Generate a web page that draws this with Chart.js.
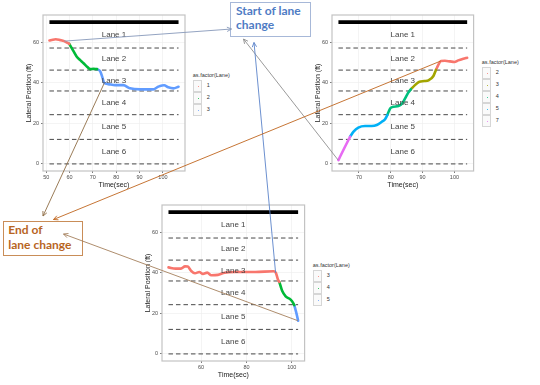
<!DOCTYPE html>
<html><head><meta charset="utf-8">
<script src="https://cdn.jsdelivr.net/npm/chart.js@4.4.1/dist/chart.umd.min.js"></script>
<style>
html,body{margin:0;padding:0;background:#fff;}
#stage{position:relative;width:540px;height:385px;overflow:hidden;font-family:"Liberation Sans",Arial,sans-serif;background:#fff;}
canvas.panel{position:absolute;}
.legend{position:absolute;font-size:5.5px;color:#333;line-height:7px;}
.legend .ttl{position:absolute;left:0;top:0;white-space:nowrap;}
.legend .key{position:absolute;left:0;width:9px;height:11px;border:0.6px solid #d6d6d6;background:#fafafa;box-sizing:border-box;}
.legend .dot{position:absolute;left:3.6px;top:4.6px;width:1.6px;height:1.6px;border-radius:50%;}
.legend .lab{position:absolute;white-space:nowrap;}
.note{position:absolute;background:#fff;box-sizing:border-box;font-family:Lato,"Open Sans",sans-serif;font-weight:bold;font-size:12px;}
#startNote{left:230px;top:1.7px;width:81px;height:35.6px;border:1px solid #a7b8d8;color:#4f7cc4;line-height:14px;padding:1.7px 0 0 5px;}
#endNote{left:2.7px;top:220.7px;width:80.6px;height:35.3px;border:1px solid #c98d58;color:#b8651f;line-height:15px;padding:0.5px 0 0 4.6px;}
#arrows{position:absolute;left:0;top:0;pointer-events:none;z-index:5;}
</style></head><body>
<div id="stage">
  <canvas id="c1" class="panel" width="190" height="189" style="left:0px;top:0px"></canvas>
  <canvas id="c2" class="panel" width="190" height="189" style="left:288.7px;top:0px"></canvas>
  <canvas id="c3" class="panel" width="191" height="189" style="left:118.7px;top:190px"></canvas>
  <div id="startNote" class="note">Start of lane<br>change</div>
  <div id="endNote" class="note">End of<br>lane change</div>
  <canvas id="arrows" width="540" height="385"></canvas>
</div>
<script>
// ---------- data ----------
const laneNames = ['Lane 1','Lane 2','Lane 3','Lane 4','Lane 5','Lane 6'];
const laneEdges = [0, 12.1, 24.3, 36, 46.3, 57.2];
const roadEdge = 70;
const yTicks = [0, 20, 40, 60];
const xTicks1 = [50, 60, 70, 80, 90, 100];
const xTicks2 = [70, 80, 90, 100];
const xTicks3 = [60, 80, 100];
const legendTitle = 'as.factor(Lane)';
const pal3 = ['#F8766D', '#00BA38', '#619CFF'];
const pal5 = ['#F8766D', '#A3A500', '#00BF7D', '#00B0F6', '#E76BF3'];

// Panel 1 (top left): lanes 1 -> 2 -> 3
const p1Lanes = ['1', '2', '3'];
const p1TimeL1 = [51.4, 52.8, 54.1, 56.0, 57.7, 59.9];
const p1PosL1  = [60.9, 61.3, 61.5, 61.1, 60.6, 59.2];
const p1TimeL2 = [59.9, 61.5, 63.1, 64.6, 66.0, 67.5, 68.9, 70.2, 71.8];
const p1PosL2  = [59.2, 56.0, 52.9, 51.2, 49.7, 48.0, 46.8, 46.9, 46.8];
const p1TimeL3 = [71.8, 73.2, 74.1, 74.9, 76.5, 79.5, 83.0, 85.9, 90.2, 95.9, 97.5, 98.8, 100.5, 102.3, 104.5, 106.7];
const p1PosL3  = [46.8, 45.6, 42.6, 39.9, 39.4, 38.9, 38.9, 37.3, 36.8, 36.8, 37.8, 38.5, 38.8, 37.8, 37.3, 38.1];

// Panel 2 (top right): lanes 7 -> 5 -> 4 -> 3 -> 2
const p2Lanes = ['2', '3', '4', '5', '7'];
const p2TimeL7 = [63.55, 65.3, 67.2];
const p2PosL7  = [1.9, 7.5, 13.4];
const p2TimeL5 = [67.2, 68.3, 69.8, 71.9, 74.0, 75.6, 77.2, 78.2, 78.9];
const p2PosL5  = [13.4, 15.9, 17.9, 18.7, 18.7, 19.2, 20.8, 22.0, 24.1];
const p2TimeL4 = [78.9, 79.8, 80.8, 82.4, 83.6, 84.5, 85.5, 86.3];
const p2PosL4  = [24.1, 27.4, 28.2, 28.6, 29.9, 32.4, 35.2, 36.8];
const p2TimeL3 = [86.3, 87.6, 89.0, 90.5, 92.0, 93.4, 94.2];
const p2PosL3  = [36.8, 38.9, 40.6, 40.9, 41.4, 43.4, 46.4];
const p2TimeL2 = [94.2, 94.9, 95.8, 97.0, 98.6, 100.0, 101.2, 102.8, 104.0];
const p2PosL2  = [46.4, 48.8, 50.8, 50.9, 50.6, 50.3, 51.1, 51.9, 52.4];

// Panel 3 (bottom): lanes 3 -> 4 -> 5
const p3Lanes = ['3', '4', '5'];
const p3TimeL3 = [45.6, 48.8, 51.1, 52.9, 54.1, 55.5, 57.3, 59.2, 60.8, 62.7, 64.5, 67.4, 70.4, 74.9, 83.9, 92.0, 93.0, 93.9, 94.5];
const p3PosL3  = [42.7, 42.1, 42.1, 43.2, 43.1, 41.1, 39.8, 40.4, 39.5, 40.1, 38.8, 39.0, 40.1, 40.4, 40.4, 40.8, 40.0, 36.7, 35.5];
const p3TimeL4 = [94.5, 95.1, 95.8, 97.3, 99.5, 100.6, 101.1];
const p3PosL4  = [35.5, 33.4, 31.0, 28.4, 26.8, 25.2, 24.1];
const p3TimeL5 = [101.1, 102.2, 102.8];
const p3PosL5  = [24.1, 19.4, 16.4];

// arrow anchors (times on the trajectories)
const startTimes = [57.7, 63.55, 93.0];
const endTimes = [74.9, 95.8, 102.8];

// ---------- drawing ----------
const FONT = '"Liberation Sans", Arial, sans-serif';

const lanePlugin = {
  id: 'laneText',
  afterDatasetsDraw(chart, args, opts) {
    const {ctx, scales: {x, y}} = chart;
    const xm = x.getPixelForValue((opts.t0 + opts.t1) / 2);
    const bounds = laneEdges.concat([roadEdge]);
    ctx.save();
    ctx.font = '8px ' + FONT;
    ctx.fillStyle = '#444';
    ctx.textAlign = 'center';
    ctx.textBaseline = 'middle';
    laneNames.forEach((name, i) => {
      const hi = bounds[bounds.length - 1 - i], lo = bounds[bounds.length - 2 - i];
      ctx.fillText(name, xm, y.getPixelForValue((lo + hi) / 2));
    });
    ctx.restore();
  }
};
const borderPlugin = {
  id: 'panelBorder',
  afterDraw(chart) {
    const {ctx, chartArea: a} = chart;
    ctx.save();
    ctx.strokeStyle = '#c3c3c3';
    ctx.lineWidth = 1.2;
    ctx.strokeRect(a.left, a.top, a.right - a.left, a.bottom - a.top);
    ctx.restore();
  }
};

function makePanel(id, segs, xTicks, plotW) {
  const allT = segs.flatMap(s => s.t);
  const t0 = Math.min(...allT), t1 = Math.max(...allT);
  const xp = (t1 - t0) * 0.05, yp = roadEdge * 0.05;
  const canvas = document.getElementById(id);
  const datasets = segs.map(s => ({
    data: s.t.map((t, i) => ({x: t, y: s.y[i]})),
    borderColor: s.color, borderWidth: 2.6, pointRadius: 0,
    cubicInterpolationMode: 'monotone', fill: false, borderCapStyle: 'round', borderJoinStyle: 'round'
  })).concat(laneEdges.map(v => ({
    data: [{x: t0, y: v}, {x: t1, y: v}],
    borderColor: '#333', borderWidth: 0.9, borderDash: [4.5, 3], pointRadius: 0, fill: false
  }))).concat([{
    data: [{x: t0, y: roadEdge}, {x: t1, y: roadEdge}],
    borderColor: '#000', borderWidth: 3.6, pointRadius: 0, fill: false
  }]);
  const tickFont = {family: FONT, size: 5.5};
  return new Chart(canvas, {
    type: 'line',
    data: {datasets},
    plugins: [lanePlugin, borderPlugin],
    options: {
      responsive: false, animation: false, devicePixelRatio: 1, events: [],
      layout: {padding: {left: 24.8, top: 15, right: canvas.width - 43 - plotW, bottom: 0}},
      plugins: {legend: {display: false}, tooltip: {enabled: false}, laneText: {t0, t1}},
      scales: {
        x: {
          type: 'linear', min: t0 - xp, max: t1 + xp,
          afterBuildTicks: s => { s.ticks = xTicks.map(v => ({value: v})); },
          afterFit: s => { s.height = 18; },
          grid: {color: '#efefef', lineWidth: 0.7, tickLength: 2, tickColor: '#444', tickWidth: 0.7},
          border: {display: false},
          ticks: {font: tickFont, color: '#4d4d4d', padding: 1, maxRotation: 0, autoSkip: false},
          title: {display: true, text: 'Time(sec)', font: {family: FONT, size: 7}, color: '#1a1a1a', padding: 0}
        },
        y: {
          type: 'linear', min: -yp, max: roadEdge + yp,
          afterBuildTicks: s => { s.ticks = yTicks.map(v => ({value: v})); },
          afterFit: s => { s.width = 18.2; },
          grid: {color: '#efefef', lineWidth: 0.7, tickLength: 2, tickColor: '#444', tickWidth: 0.7},
          border: {display: false},
          ticks: {font: tickFont, color: '#4d4d4d', padding: 2, autoSkip: false},
          title: {display: true, text: 'Lateral Position (ft)', font: {family: FONT, size: 7}, color: '#1a1a1a', padding: 0}
        }
      }
    }
  });
}

const chart1 = makePanel('c1', [
  {t: p1TimeL1, y: p1PosL1, color: pal3[0]},
  {t: p1TimeL2, y: p1PosL2, color: pal3[1]},
  {t: p1TimeL3, y: p1PosL3, color: pal3[2]}
], xTicks1, 142);
const chart2 = makePanel('c2', [
  {t: p2TimeL7, y: p2PosL7, color: pal5[4]},
  {t: p2TimeL5, y: p2PosL5, color: pal5[3]},
  {t: p2TimeL4, y: p2PosL4, color: pal5[2]},
  {t: p2TimeL3, y: p2PosL3, color: pal5[1]},
  {t: p2TimeL2, y: p2PosL2, color: pal5[0]}
], xTicks2, 141.6);
const chart3 = makePanel('c3', [
  {t: p3TimeL3, y: p3PosL3, color: pal3[0]},
  {t: p3TimeL4, y: p3PosL4, color: pal3[1]},
  {t: p3TimeL5, y: p3PosL5, color: pal3[2]}
], xTicks3, 142.6);

// ---------- legends ----------
function buildLegend(left, titleCenter, lanes, colors, step) {
  const stage = document.getElementById('stage');
  const d = document.createElement('div');
  d.className = 'legend';
  d.style.left = left + 'px';
  d.style.top = (titleCenter - 3.5) + 'px';
  const t = document.createElement('div');
  t.className = 'ttl'; t.style.left = '-0.5px'; t.textContent = legendTitle;
  d.appendChild(t);
  lanes.forEach((ln, i) => {
    const top = 8 + i * step;
    const k = document.createElement('div');
    k.className = 'key'; k.style.top = top + 'px'; k.style.height = step + 'px';
    const dot = document.createElement('div');
    dot.className = 'dot'; dot.style.background = colors[i]; dot.style.top = (step / 2 - 0.9) + 'px';
    k.appendChild(dot);
    d.appendChild(k);
    const l = document.createElement('div');
    l.className = 'lab'; l.textContent = ln;
    l.style.left = '13.5px'; l.style.top = (top + step / 2 - 3.5) + 'px';
    d.appendChild(l);
  });
  stage.appendChild(d);
}
buildLegend(193.3, 75, p1Lanes, pal3, 12);
buildLegend(482.3, 62, p2Lanes, pal5, 12);
buildLegend(313.3, 265, p3Lanes, pal3, 12);

// ---------- arrows ----------
function anchorOf(chart, canvasId, t, segs) {
  const c = document.getElementById(canvasId);
  const ox = parseFloat(c.style.left), oy = parseFloat(c.style.top);
  for (const [ts, ys] of segs) {
    const i = ts.indexOf(t);
    if (i >= 0) return [ox + chart.scales.x.getPixelForValue(ts[i]), oy + chart.scales.y.getPixelForValue(ys[i])];
  }
  return [ox, oy];
}
const seg1 = [[p1TimeL1, p1PosL1], [p1TimeL2, p1PosL2], [p1TimeL3, p1PosL3]];
const seg2 = [[p2TimeL7, p2PosL7], [p2TimeL5, p2PosL5], [p2TimeL4, p2PosL4], [p2TimeL3, p2PosL3], [p2TimeL2, p2PosL2]];
const seg3 = [[p3TimeL3, p3PosL3], [p3TimeL4, p3PosL4], [p3TimeL5, p3PosL5]];

const actx = document.getElementById('arrows').getContext('2d');
function arrow(from, to, color) {
  const [x0, y0] = from, [x1, y1] = to;
  actx.strokeStyle = color; actx.lineWidth = 0.9;
  actx.beginPath(); actx.moveTo(x0, y0); actx.lineTo(x1, y1); actx.stroke();
  const a = Math.atan2(y1 - y0, x1 - x0), L = 5, w = 0.45;
  actx.beginPath();
  actx.moveTo(x1 - L * Math.cos(a - w), y1 - L * Math.sin(a - w));
  actx.lineTo(x1, y1);
  actx.lineTo(x1 - L * Math.cos(a + w), y1 - L * Math.sin(a + w));
  actx.stroke();
}
const sb = document.getElementById('startNote'), eb = document.getElementById('endNote');
const sL = sb.offsetLeft, sT = sb.offsetTop, sB = sT + sb.offsetHeight;
const eL = eb.offsetLeft, eT = eb.offsetTop;
arrow(anchorOf(chart1, 'c1', startTimes[0], seg1), [sL + 1.5, sT + 27], '#8799ba');
arrow(anchorOf(chart2, 'c2', startTimes[1], seg2), [sL + 13.5, sB + 1], '#8e8e8e');
arrow(anchorOf(chart3, 'c3', startTimes[2], seg3), [sL + 24, sB + 4.5], '#5b83c9');
arrow(anchorOf(chart1, 'c1', endTimes[0], seg1), [eL + 40, eT - 5], '#8f6d45');
arrow(anchorOf(chart2, 'c2', endTimes[1], seg2), [eL + 50.5, eT - 1.5], '#c0651e');
arrow(anchorOf(chart3, 'c3', endTimes[2], seg3), [eL + 60.5, eT + 13], '#a5805c');
</script>
</body></html>
